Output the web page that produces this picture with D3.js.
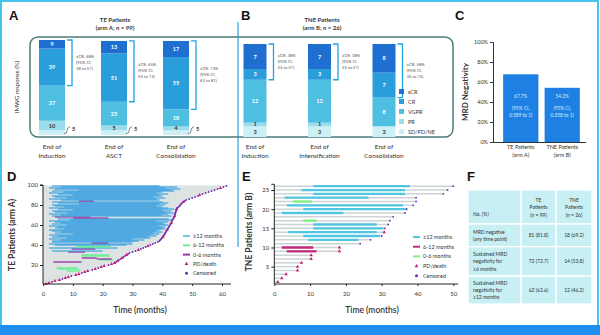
<!DOCTYPE html>
<html><head><meta charset="utf-8">
<script src="https://cdn.jsdelivr.net/npm/d3@7"></script>
<style>body{margin:0;background:#fff}svg{display:block;font-family:Lato,"Open Sans",sans-serif}</style>
</head><body><svg id="c" width="600" height="335"></svg>
<script>
// ---------- DATA ----------
const responseTypes = ["sCR","CR","VGPR","PR","SD/PD/NE"];
const aTimepoints = [["End of","Induction"],["End of","ASCT"],["End of","Consolidation"]];
const aSCR = [9,13,17], aCR = [39,51,55], aVGPR = [37,25,18], aPR = [10,5,4], aSD = [5,5,5];
const aCRtext = [["≥CR: 48%","(95% CI,","38 to 57)"],["≥CR: 65%","(95% CI,","55 to 73)"],["≥CR: 73%","(95% CI,","63 to 81)"]];
const bTimepoints = [["End of","Induction"],["End of","Intensification"],["End of","Consolidation"]];
const bSCR = [7,7,8], bCR = [3,3,7], bVGPR = [12,12,8], bPR = [1,1,0], bSD = [3,3,3];
const bCRtext = [["≥CR: 38%","(95% CI,","22 to 57)"],["≥CR: 38%","(95% CI,","22 to 57)"],["≥CR: 58%","(95% CI,","36 to 74)"]];

const mrdGroups = [["TE Patients","(arm A)"],["TNE Patients","(arm B)"]];
const mrdRate = [67.7, 54.2];
const mrdRateText = ["67.7%","54.2%"];
const mrdCI = ["0.589 to 1)","0.358 to 1)"];
const mrdTicks = [0,20,40,60,80,100];

// Arm A swimmer (patient 1 = bottom)
const teFollow = [1,2,3,4,5.5,6.5,7.5,8.5,9.5,11,
 12,13,14,15,16.5,17.5,18.5,19.5,20.5,22,
 23,24,24.5,25,25.5,26,26.5,27,27.5,28,
 28.5,29,30,31,32,32.8,33.6,34.4,35.2,36,
 36.8,37.6,38.5,39,39.3,39.6,39.9,40.2,40.4,40.6,
 40.8,41,41.2,41.4,41.6,41.8,42,42.2,42.4,42.6,
 42.8,43,43.1,43.2,43.4,43.6,43.8,44,44.1,44.2,
 44.3,44.4,44.5,44.6,44.7,44.8,45,45.4,45.8,46,
 46.3,46.6,47,47.5,48,49,50,51,52,52.5,
 53.5,54.5,55.5,56.5,57.5,58.5,59.5,60.5,61.5];
const teMrdStart = [null,null,null,null,null,null,null,null,null,null,
 null,null,null,8,null,5,4.5,null,null,null,
 null,null,3.5,null,19,18,13,null,12.9,13,
 null,null,8.5,3,null,9.6,2,11.3,11.3,4,
 2,16.3,3,3,6,2,8,3,5,2,
 10,4,6,3,2,7,4,5,2,8,
 3,6,4,2,9,5,10.2,4,3,6,
 2,8,4,3,10,5,2,7,4,3,
 12,5,3,12,6,2,8,4,3,10,
 5,2,7,3,12,4,2,6,3];
const teMrdEnd = [null,null,null,null,null,null,null,null,null,null,
 null,null,null,12.4,null,12,11.5,null,null,null,
 null,null,12.9,null,23.5,23,18,null,22.5,22,
 null,null,14.1,20,null,17.5,25,22.5,22.5,28,
 30,21.9,30,32,34,30,36,35,38,36,
 39,37,40,38,39,41,40,41,39,42,
 41,40,42,38,43,42,21.9,15.8,43,40,
 42,44,41,43,40,44,42,40,38,41,
 39,42,40,17,39,38,41,37,40,39,
 42,38,40,44,43,46,41,45,39];
// 0 none, 1 >=12 months, 2 6-12 months, 3 0-6 months
const teMrdCat = [0,0,0,0,0,0,0,0,0,0,
 0,0,0,2,0,2,2,0,0,0,
 0,0,3,0,2,3,3,0,2,2,
 0,0,3,1,0,3,1,2,2,1,
 1,3,1,1,1,1,1,1,1,1,
 1,1,1,1,1,1,1,1,1,1,
 1,1,1,1,1,1,3,3,1,1,
 1,1,1,1,1,1,1,1,1,1,
 1,1,1,3,1,1,1,1,1,1,
 1,1,1,1,1,1,1,1,1];
const teEvent = "PPCPPCPPCPPCPPCPCPPCPPCPCCPCCPCCCCPCCCPCCCCCCCCPCCCCCCPCCCCCCPCCCCCCPCCCCCCPCCCCCCPCCCCCCPCCCCCCPCC";

// Arm B swimmer
const tneFollow = [1,2.1,3.3,6.5,6.5,7.6,10.3,10.3,18.2,18.2,24,26.9,30,30.7,30.9,31.8,32.3,33.2,36.5,37,38.8,39.6,39.6,47.2,48.4,50];
const tneMrdStart = [null,null,null,null,null,null,null,null,3.5,2.1,null,9.5,8.1,3.9,10.9,10.9,8.1,null,2.1,8.1,3.5,5.3,2.9,10.9,7.6,10.9];
const tneMrdEnd = [null,null,null,null,null,null,null,null,11.8,10.9,null,23.5,29.5,28.6,30.5,28.6,11.8,null,19.3,37,36,10.5,26.3,36.5,36.5,37.9];
const tneMrdCat = [0,0,0,0,0,0,0,0,2,2,0,1,1,1,1,1,3,0,1,1,1,3,1,1,1,1];
const tneEvent = "PPPPPPPPPPCCCPCCCCCCCCCCCC";

const legendLabels = ["≥12 months","6-12 months","0-6 months","PD/death","Censored"];

const tableHeader = [["No. (%)"],["TE","Patients","(n = 99)"],["TNE","Patients","(n = 26)"]];
const tableRowLabels = [["MRD negative","(any time point)"],["Sustained MRD","negativity for","≥6 months"],["Sustained MRD","negativity for","≥12 months"]];
const tableTE = ["81 (81.8)","72 (72.7)","62 (62.6)"];
const tableTNE = ["18 (69.2)","14 (53.8)","12 (46.2)"];

// ---------- DRAW ----------
const svg = d3.select("#c");
const respColor = ["#1f6fd1","#2a9ddb","#4fbfe1","#9adcec","#cdeff6"];
const dark = "#333";

svg.append("rect").attr("x",0).attr("y",0).attr("width",600).attr("height",335).attr("fill","#fff");
svg.append("rect").attr("x",1).attr("y",1).attr("width",597).attr("height",326).attr("fill","none").attr("stroke","#45c3ea").attr("stroke-width",2);
svg.append("rect").attr("x",0).attr("y",325).attr("width",600).attr("height",10).attr("fill","#1f8fef");
svg.append("line").attr("x1",238).attr("x2",238).attr("y1",22).attr("y2",247).attr("stroke","#2aa8e0").attr("stroke-width",1.2);

function letter(t,x,y){svg.append("text").attr("x",x).attr("y",y).text(t).attr("font-family","'Liberation Sans',Arial,sans-serif").attr("font-weight",700).attr("font-size",13).attr("fill","#111");}
letter("A",9,20); letter("B",241,20); letter("C",455,20); letter("D",7,181); letter("E",242,181); letter("F",467,181);

function multiText(g,lines,x,y,dy,size,opts={}){
  const t=g.append("text").attr("x",x).attr("y",y).attr("font-size",size).attr("fill",opts.fill||dark)
   .attr("text-anchor",opts.anchor||"middle").attr("font-weight",opts.weight||400);
  lines.forEach((l,i)=>t.append("tspan").attr("x",x).attr("dy",i?dy:0).text(l));
  return t;
}

svg.append("rect").attr("x",30).attr("y",37).attr("width",423).attr("height",100).attr("rx",8)
  .attr("fill","none").attr("stroke","#4a7d79").attr("stroke-width",1.5);

multiText(svg,["TE Patients","(arm A; n = 99)"],115,22,8,6,{weight:700});
multiText(svg,["TNE Patients","(arm B; n = 26)"],322,22,8,6,{weight:700});
svg.append("text").attr("transform","translate(19,87) rotate(-90)").attr("text-anchor","middle")
  .attr("font-size",6).attr("fill",dark).text("IMWG response (%)");

function stackPanel(series, cats, crText, xRange, y, bw){
  const x = d3.scalePoint().domain(d3.range(cats.length)).range(xRange);
  const g = svg.append("g");
  cats.forEach((c,i)=>{
    const cx = x(i), xl = cx-bw/2, xr = cx+bw/2;
    const order=[4,3,2,1,0];
    let cum=0; const bounds={};
    order.forEach(k=>{
      const v=series[k][i];
      const y0=y(cum), y1=y(cum+v);
      bounds[k]=[y1,y0];
      if(v>0) g.append("rect").attr("x",xl).attr("y",y1).attr("width",bw).attr("height",y0-y1).attr("fill",respColor[k]);
      cum+=v;
    });
    order.forEach(k=>{
      const v=series[k][i]; if(v<=0) return;
      const [y1,y0]=bounds[k]; const h=y0-y1; const ym=(y0+y1)/2;
      if(k===4 && h<7){
        g.append("path").attr("d",`M${xr-1},${ym+1} q3,0 3,-3 t3,-4`).attr("fill","none").attr("stroke",dark).attr("stroke-width",0.6);
        g.append("text").attr("x",xr+7).attr("y",ym-2).attr("font-size",5.5).attr("font-weight",700).attr("fill",dark).text(v);
      } else {
        g.append("text").attr("x",cx).attr("y",ym+2).attr("text-anchor","middle").attr("font-size",5.5).attr("font-weight",700)
          .attr("fill",k<=2?"#fff":dark).text(v);
      }
    });
    const yt=bounds[0][0], yb=bounds[1][1], xb=xr+7;
    g.append("path").attr("d",`M${xr+2},${yt}H${xb}V${yb}H${xr+2}`).attr("fill","none").attr("stroke","#1fa3e0").attr("stroke-width",1.3);
    multiText(g,crText[i],xb+4,(yt+yb)/2-5,6,4.2,{anchor:"start",fill:"#555"});
    multiText(g,c,cx,149,8.5,6.5);
  });
}
const yA = d3.scaleLinear().domain([0,100]).range([135,40]);
stackPanel([aSCR,aCR,aVGPR,aPR,aSD], aTimepoints, aCRtext, [52,176], yA, 26);
const yB = d3.scaleLinear().domain([0,26]).range([137,44]);
stackPanel([bSCR,bCR,bVGPR,bPR,bSD], bTimepoints, bCRtext, [255,384], yB, 23);

responseTypes.forEach((r,i)=>{
  svg.append("rect").attr("x",399).attr("y",89+i*10).attr("width",5).attr("height",5).attr("fill",respColor[i]);
  svg.append("text").attr("x",408).attr("y",94+i*10).attr("font-size",5.5).attr("fill",dark).text(r);
});

// ---------- Panel C ----------
const yC = d3.scaleLinear().domain([0,100]).range([142,42]);
const xC = d3.scaleBand().domain(d3.range(mrdRate.length)).range([499,584]).paddingInner(0.15).paddingOuter(0.1);
const gC = svg.append("g");
gC.append("g").attr("transform","translate(493,0)")
  .call(d3.axisLeft(yC).tickValues(mrdTicks).tickFormat(d=>d+"%").tickSize(3).tickPadding(2))
  .call(g=>{g.selectAll("text").attr("font-size",5.5).attr("fill",dark).attr("font-family","Lato,sans-serif");g.selectAll("line,path").attr("stroke",dark);});
mrdRate.forEach((v,i)=>{
  const x=xC(i), w=xC.bandwidth();
  gC.append("rect").attr("x",x).attr("y",yC(v)).attr("width",w).attr("height",yC(0)-yC(v)).attr("fill","#1f80e3");
  multiText(gC,[mrdRateText[i]],x+w/2,98,0,4.8,{fill:"#d2f0ff"});
  multiText(gC,["(95% CI,",mrdCI[i]],x+w/2,110,6.5,4.8,{fill:"#d2f0ff"});
  multiText(gC,mrdGroups[i],x+w/2,149,7.5,5.5);
});
gC.append("line").attr("x1",493).attr("x2",586).attr("y1",142.5).attr("y2",142.5).attr("stroke",dark).attr("stroke-width",1);
svg.append("text").attr("transform","translate(468,92) rotate(-90)").attr("text-anchor","middle")
  .attr("font-size",8).attr("font-weight",700).attr("fill",dark).text("MRD Negativity");

// ---------- Swimmer panels ----------
function swimmer(cfg){
  const g = svg.append("g");
  const x=cfg.x, y=cfg.y;
  cfg.follow.forEach((f,i)=>{
    const p=i+1;
    g.append("line").attr("x1",x(0)).attr("x2",x(f)).attr("y1",y(p)).attr("y2",y(p)).attr("stroke",cfg.gray).attr("stroke-width",cfg.lw);
  });
  cfg.follow.forEach((f,i)=>{
    const p=i+1, c=cfg.cat[i];
    if(!c) return;
    g.append("line").attr("x1",x(cfg.start[i])).attr("x2",x(cfg.end[i])).attr("y1",y(p)).attr("y2",y(p))
      .attr("stroke",cfg.colors[c]).attr("stroke-width",cfg.lw2).attr("stroke-opacity",cfg.op);
  });
  cfg.follow.forEach((f,i)=>{
    const p=i+1, ev=cfg.event[i]||"C";
    if(ev==="P") g.append("path").attr("d",d3.symbol(d3.symbolTriangle,cfg.ms*2)()).attr("transform",`translate(${x(f)},${y(p)})`).attr("fill","#c2207a");
    else g.append("circle").attr("cx",x(f)).attr("cy",y(p)).attr("r",Math.sqrt(cfg.ms/Math.PI)).attr("fill","#6a2ab4");
  });
  const ya=svg.append("g").attr("transform",`translate(${x(0)},0)`).call(d3.axisLeft(y).tickValues(cfg.yticks).tickSize(3).tickPadding(2));
  const xa=svg.append("g").attr("transform",`translate(0,${cfg.axisY})`).call(d3.axisBottom(x).tickValues(cfg.xticks).tickSize(2).tickPadding(6));
  [ya,xa].forEach(a=>{a.selectAll("text").attr("font-size",6).attr("fill",dark).attr("font-family","Lato,sans-serif");a.selectAll("line,path").attr("stroke","#222").attr("stroke-width",1);});
  ya.select(".domain").attr("d",`M-3,${y(cfg.ymaxLine)}H0V${cfg.axisY}`);
  xa.select(".domain").attr("d",`M${x(0)},0H${cfg.xEnd}`);
  svg.append("text").attr("transform",`translate(${cfg.ytx},${cfg.yty}) rotate(-90)`).attr("text-anchor","middle")
    .attr("font-size",8.5).attr("font-weight",700).attr("fill",dark).text(cfg.ytitle);
  svg.append("text").attr("x",cfg.xtx).attr("y",313).attr("text-anchor","middle").attr("font-size",8.5).attr("font-weight",600).attr("fill",dark).text("Time (months)");
  const clipId="clip"+cfg.id;
  svg.append("clipPath").attr("id",clipId).append("rect").attr("x",cfg.lx-5).attr("y",228).attr("width",cfg.clipW).attr("height",60);
  const lg=svg.append("g").attr("clip-path",`url(#${clipId})`);
  legendLabels.forEach((l,i)=>{
    const yy=cfg.ly+i*cfg.lstep;
    if(i<3) lg.append("line").attr("x1",cfg.lx).attr("x2",cfg.lx+7).attr("y1",yy).attr("y2",yy).attr("stroke",cfg.legColors[i+1]).attr("stroke-width",2);
    else if(i===3) lg.append("path").attr("d",d3.symbol(d3.symbolTriangle,6)()).attr("transform",`translate(${cfg.lx+3.5},${yy})`).attr("fill","#c2207a");
    else lg.append("circle").attr("cx",cfg.lx+3.5).attr("cy",yy).attr("r",1.5).attr("fill","#6a2ab4");
    lg.append("text").attr("x",cfg.lx+10).attr("y",yy+2).attr("font-size",5.5).attr("fill",dark).text(l);
  });
}
swimmer({id:"D",x:d3.scaleLinear().domain([0,60]).range([43,222]),y:d3.scaleLinear().domain([0,100]).range([285,185]),
  follow:teFollow,start:teMrdStart,end:teMrdEnd,cat:teMrdCat,event:teEvent,gray:"#d2d9d9",
  colors:[null,"#2f9de0","#5cf08a","#8e2a9c"],legColors:[null,"#6cc8e8","#6af08e","#9a3aa8"],
  lw:1.1,lw2:1.7,op:0.75,ms:2.5,yticks:[20,40,60,80,100],xticks:[0,10,20,30,40,50,60],axisY:284,ymaxLine:100,xEnd:231,
  ytx:15,yty:235,ytitle:"TE Patients (arm A)",xtx:140,lx:183,ly:236,lstep:9.3,clipW:55});
swimmer({id:"E",x:d3.scaleLinear().domain([0,50]).range([274.3,453.3]),y:d3.scaleLinear().domain([0,26]).range([285.8,186.2]),
  follow:tneFollow,start:tneMrdStart,end:tneMrdEnd,cat:tneMrdCat,event:tneEvent,gray:"#ccd3d5",
  colors:[null,"#52c6e0","#c22a7c","#7ef07e"],legColors:[null,"#52c6e0","#c22a7c","#7ef07e"],
  lw:1.5,lw2:2.3,op:1,ms:2.6,yticks:[5,10,15,20,25],xticks:[0,10,20,30,40,50],axisY:284,ymaxLine:26.5,xEnd:458,
  ytx:252,yty:232,ytitle:"TNE Patients (arm B)",xtx:372,lx:413,ly:237,lstep:9.7,clipW:50});

// ---------- Panel F (table) ----------
const colX=[468,521,556,592], rowY=[190,224,246.7,276,304];
const gF=svg.append("g");
for(let r=0;r<4;r++)for(let c=0;c<3;c++)
  gF.append("rect").attr("x",colX[c]).attr("y",rowY[r]).attr("width",colX[c+1]-colX[c]).attr("height",rowY[r+1]-rowY[r])
   .attr("fill","#c8eff4").attr("stroke","#fff").attr("stroke-width",1.3);
multiText(gF,tableHeader[0],473,216,0,5,{anchor:"start"});
multiText(gF,tableHeader[1],(colX[1]+colX[2])/2,202,7.3,5);
multiText(gF,tableHeader[2],(colX[2]+colX[3])/2,202,7.3,5);
tableRowLabels.forEach((l,i)=>{
  const n=l.length, ym=(rowY[i+1]+rowY[i+2])/2;
  multiText(gF,l,473,ym-(n-1)*3.6+1.8,7.3,5,{anchor:"start"});
  multiText(gF,[tableTE[i]],(colX[1]+colX[2])/2,ym+1.8,0,5);
  multiText(gF,[tableTNE[i]],(colX[2]+colX[3])/2,ym+1.8,0,5);
});
</script></body></html>
